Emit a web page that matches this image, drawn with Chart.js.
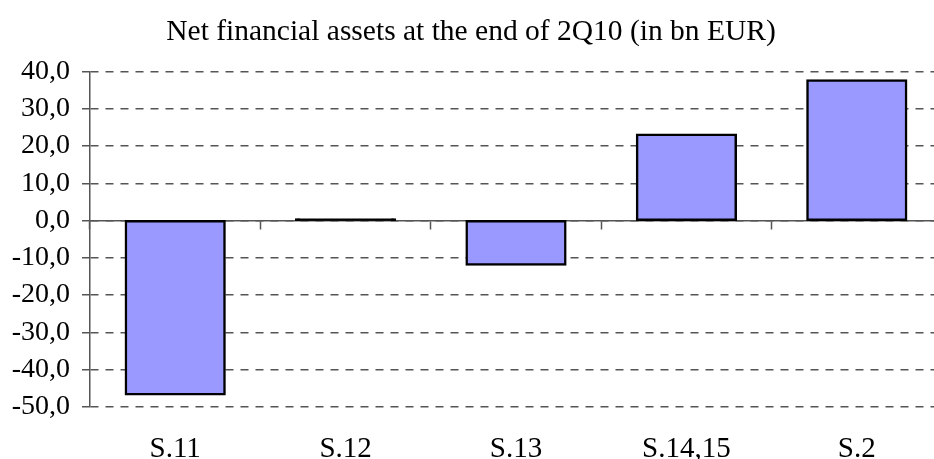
<!DOCTYPE html>
<html>
<head>
<meta charset="utf-8">
<script src="https://cdn.jsdelivr.net/npm/chart.js@4/dist/chart.umd.min.js"></script>
<style>
  html, body { margin: 0; padding: 0; background: #fff; overflow: hidden; }
  #wrap { width: 942px; height: 459px; position: relative; }
</style>
</head>
<body>
<div id="wrap"><canvas id="netChart"></canvas></div>
<script>
// Net financial assets, 2Q10, bn EUR
const sectors = ['S.11', 'S.12', 'S.13', 'S.14,15', 'S.2'];
const netAssets = [-46.6, 0.3, -11.8, 23.0, 37.6];
const yMin = -50, yMax = 40, yStep = 10;
const titleText = 'Net financial assets at the end of 2Q10 (in bn EUR)';

const serif = "'Liberation Serif', 'Times New Roman', serif";
const gridGrey = '#555';
const barFill = '#9999ff';

Chart.defaults.color = '#000';
Chart.defaults.font.family = serif;

new Chart(document.getElementById('netChart').getContext('2d'), {
    type: 'bar',
    data: {
        labels: sectors,
        datasets: [{
            label: 'Net financial assets', data: netAssets, xAxisID: 'x',
            // a near-zero bar is just its outline, i.e. a black stroke
            backgroundColor: c => Math.abs(c.raw) < 1 ? '#000' : barFill,
            borderColor: '#000', borderWidth: 2.5,
            borderSkipped: false, inflateAmount: 1.2,
            barPercentage: 0.58, categoryPercentage: 1
        }]
    },
    options: {
        responsive: true, maintainAspectRatio: false, animation: false,
        layout: { padding: 0 },
        plugins: {
            legend: { display: false },
            tooltip: { enabled: false },
            title: {
                display: true, text: titleText, color: '#000',
                font: { family: serif, size: 29.5, weight: 'normal' },
                padding: { top: 15, bottom: 21 }
            }
        },
        scales: {
            // axis line at zero with the category tick marks
            x: {
                type: 'category', position: { y: 0 }, offset: true,
                grid: { display: true, drawOnChartArea: false, offset: true, tickLength: 8, tickColor: gridGrey, tickWidth: 1.5 },
                border: { display: true, color: gridGrey, width: 1.5 },
                ticks: { display: false }
            },
            // category names along the bottom
            x2: {
                type: 'category', position: 'bottom', offset: true,
                grid: { display: false }, border: { display: false },
                ticks: { color: '#000', font: { size: 29 }, padding: 17, maxRotation: 0 },
                afterFit: s => { s.height = 52; }
            },
            y: {
                min: yMin, max: yMax,
                ticks: {
                    stepSize: yStep, color: '#000', font: { size: 28 }, padding: 12,
                    callback: v => v.toFixed(1).replace('.', ',')
                },
                grid: { color: gridGrey, lineWidth: 1.5, tickLength: 8, tickBorderDash: [] },
                border: { display: true, color: gridGrey, width: 1.5, dash: [8, 7] },
                afterFit: s => { s.width = 90; }
            }
        }
    }
});
</script>
</body>
</html>
